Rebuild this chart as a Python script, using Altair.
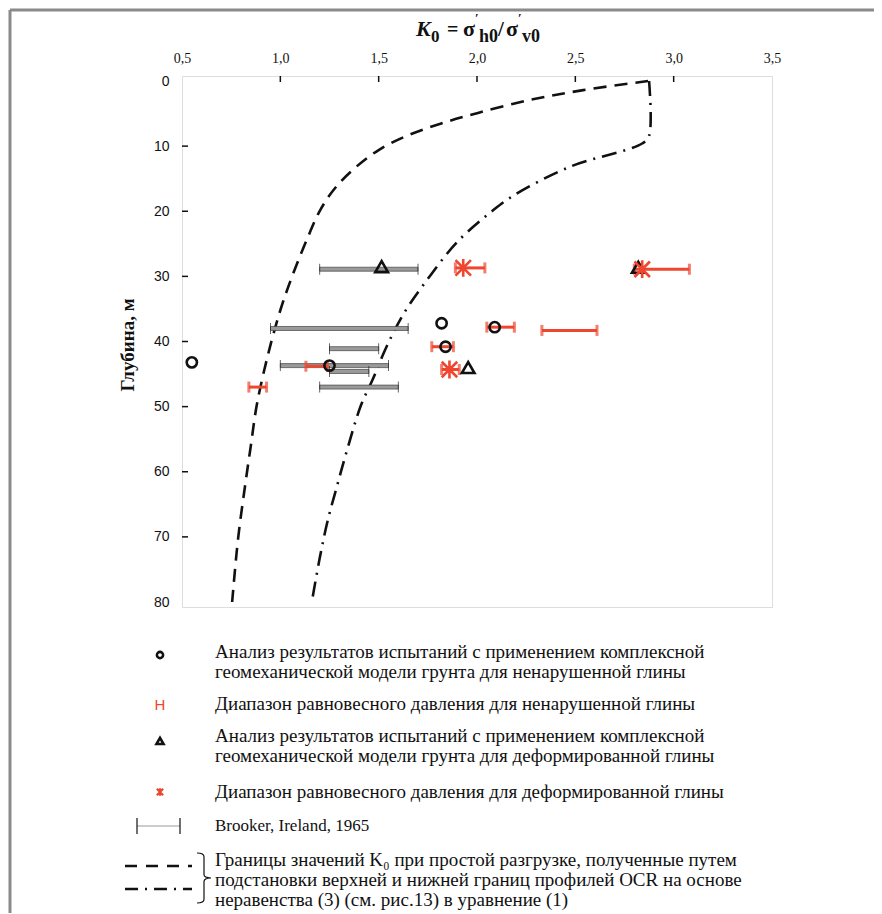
import altair as alt
import pandas as pd

# ---------------- data ----------------
# undisturbed clay, complex geomechanical model (open circles)
und_K = [0.55, 1.25, 1.82, 1.84, 2.09]
und_D = [43.2, 43.7, 37.2, 40.8, 37.8]
# equilibrium pressure range, undisturbed clay (red H)
und_lo = [0.84, 1.13, 1.77, 2.05, 2.33]
und_hi = [0.93, 1.24, 1.88, 2.19, 2.61]
und_rD = [47.0, 43.8, 40.8, 37.8, 38.3]
# deformed clay, complex geomechanical model (open triangles)
def_K = [1.515, 1.955, 2.82]
def_D = [28.5, 44.0, 28.6]
# equilibrium pressure range, deformed clay (red asterisk)
defr_K = [1.93, 2.84, 1.86]
defr_lo = [1.89, 2.80, 1.82]
defr_hi = [2.04, 3.08, 1.91]
defr_D = [28.7, 28.9, 44.3]
# Brooker, Ireland, 1965
br_lo = [1.20, 0.95, 1.25, 1.00, 1.25, 1.20]
br_hi = [1.70, 1.65, 1.50, 1.55, 1.45, 1.60]
br_D = [28.9, 38.0, 41.1, 43.7, 44.6, 47.0]
# K0 bounds, dashed curve
dash_D = [0, 1.4, 2.9, 4.9, 6.6, 8.4, 10.6, 13.2, 16.2, 19.7, 24.7, 30, 35.2, 42.3, 49.8, 56, 62.3, 70.3, 80]
dash_K = [2.87, 2.54, 2.27, 2.005, 1.81, 1.645, 1.50, 1.385, 1.285, 1.205, 1.13, 1.06, 1.0, 0.935, 0.88, 0.85, 0.82, 0.785, 0.755]
# K0 bounds, dash-dot curve
dd_D = [0, 8.4, 9.6, 13.2, 17.7, 19.9, 24.7, 31, 35.6, 40.8, 45.8, 49.8, 56.6, 62, 67.6, 73.3, 80]
dd_K = [2.875, 2.875, 2.84, 2.47, 2.18, 2.08, 1.90, 1.735, 1.63, 1.54, 1.47, 1.41, 1.34, 1.29, 1.24, 1.20, 1.16]

x_ticks = [0.5, 1.0, 1.5, 2.0, 2.5, 3.0, 3.5]
y_ticks = [0, 10, 20, 30, 40, 50, 60, 70, 80]

legend_lines = [
    "Анализ результатов испытаний с применением комплексной",
    "геомеханической модели грунта для ненарушенной глины",
    "Диапазон равновесного давления для ненарушенной глины",
    "Анализ результатов испытаний с применением комплексной",
    "геомеханической модели грунта для деформированной глины",
    "Диапазон равновесного давления для деформированной глины",
    "Brooker, Ireland, 1965",
    "Границы значений K₀ при простой разгрузке, полученные путем",
    "подстановки верхней и нижней границ профилей OCR на основе",
    "неравенства (3) (см. рис.13) в уравнение (1)",
]
legend_y = [576, 596, 628, 660, 680, 716, 750, 784, 804, 824]
legend_size = [19, 19, 19, 19, 19, 19, 17, 19, 19, 19]

RED = "#ef4630"
SERIF = "Liberation Serif"
SANS = "Liberation Sans"
W, H = 590, 531

xs = alt.Scale(domain=[0.5, 3.5], nice=False, zero=False)
ys = alt.Scale(domain=[0, 80], reverse=True, nice=False, zero=False)
xaxis = alt.Axis(orient="top", values=x_ticks, ticks=False, domain=False, grid=False,
                 labelExpr="replace(format(datum.value, '.1f'), '.', ',')",
                 labelFont=SERIF, labelFontSize=14, labelColor="#111", labelPadding=11,
                 labelFlush=False, title=None)
yaxis = alt.Axis(values=y_ticks, ticks=False, domain=False, grid=False,
                 labelFont=SANS, labelFontSize=14, labelColor="#111", labelPadding=13,
                 labelFlush=False, title=None)


def X(f):
    return alt.X(f, type="quantitative", scale=xs, axis=xaxis)


def Y(f):
    return alt.Y(f, type="quantitative", scale=ys, axis=yaxis)


one = pd.DataFrame({"a": [1]})

und_df = pd.DataFrame({"K": und_K, "D": und_D})
undr_df = pd.DataFrame({"lo": und_lo, "hi": und_hi, "D": und_rD})
def_df = pd.DataFrame({"K": def_K, "D": def_D})
defr_df = pd.DataFrame({"K": defr_K, "lo": defr_lo, "hi": defr_hi, "D": defr_D})
br_df = pd.DataFrame({"lo": br_lo, "hi": br_hi, "D": br_D})
dash_df = pd.DataFrame({"K": dash_K, "D": dash_D, "o": list(range(len(dash_D)))})
dd_df = pd.DataFrame({"K": dd_K, "D": dd_D, "o": list(range(len(dd_D)))})
xt_df = pd.DataFrame({"K": x_ticks[1:-1]})
yt_df = pd.DataFrame({"D": y_ticks[1:-1]})
leg_df = pd.DataFrame({"t": legend_lines, "py": legend_y, "fs": legend_size})

ASTER = "M-1,-1L1,1M-1,1L1,-1M0,-1.15L0,1.15"
BRACE = ("M-0.28,-1 Q0,-1 0,-0.85 L0,-0.14 Q0,0 0.28,0 Q0,0 0,0.14 L0,0.85 Q0,1 -0.28,1")

layers = []

# outer page frame (left and top edges visible)
layers.append(alt.Chart(one).mark_rule(color="#8a8a8a", strokeWidth=3).encode(
    x=alt.value(-172), x2=alt.value(720), y=alt.value(-66)))
layers.append(alt.Chart(one).mark_rule(color="#8a8a8a", strokeWidth=3).encode(
    x=alt.value(-172), y=alt.value(-66), y2=alt.value(900)))

# inward ticks
layers.append(alt.Chart(xt_df).mark_rule(color="#111", strokeWidth=1.5).encode(
    x=X("K"), y=alt.value(0), y2=alt.value(6)))
layers.append(alt.Chart(yt_df).mark_rule(color="#111", strokeWidth=1.5).encode(
    y=Y("D"), x=alt.value(0), x2=alt.value(6)))

# curves
layers.append(alt.Chart(dash_df).mark_line(color="#111", strokeWidth=2.6, strokeDash=[13, 8],
                                           interpolate="catmull-rom").encode(
    x=X("K"), y=Y("D"), order="o:Q"))
layers.append(alt.Chart(dd_df).mark_line(color="#111", strokeWidth=2.6, strokeDash=[15, 7, 2, 7],
                                         interpolate="catmull-rom").encode(
    x=X("K"), y=Y("D"), order="o:Q"))

# Brooker bars
br = alt.Chart(br_df)
layers.append(br.mark_bar(size=4, fill="#9a9a9a", stroke="#444", strokeWidth=0.7, orient="horizontal").encode(
    x=X("lo"), x2="hi", y=Y("D")))
layers.append(br.mark_tick(orient="vertical", size=11, thickness=1, color="#222").encode(x=X("lo"), y=Y("D")))
layers.append(br.mark_tick(orient="vertical", size=11, thickness=1, color="#222").encode(x=X("hi"), y=Y("D")))

# red ranges
for df in (undr_df, defr_df):
    c = alt.Chart(df)
    layers.append(c.mark_rule(color=RED, strokeWidth=3).encode(x=X("lo"), x2="hi", y=Y("D")))
    layers.append(c.mark_tick(orient="vertical", size=11, thickness=3, color=RED).encode(x=X("lo"), y=Y("D")))
    layers.append(c.mark_tick(orient="vertical", size=11, thickness=3, color=RED).encode(x=X("hi"), y=Y("D")))

# markers
layers.append(alt.Chart(und_df).mark_point(shape="circle", size=105, filled=False, color="#111",
                                           strokeWidth=2.6, opacity=1).encode(x=X("K"), y=Y("D")))
layers.append(alt.Chart(def_df).mark_point(shape="triangle-up", size=160, filled=False, color="#111",
                                           strokeWidth=2.6, opacity=1).encode(x=X("K"), y=Y("D")))
layers.append(alt.Chart(defr_df).mark_point(shape=ASTER, size=240, filled=False, color=RED,
                                            strokeWidth=2.6, opacity=1).encode(x=X("K"), y=Y("D")))


# ---------- title pieces ----------
def txt(s, x, y, size=20, weight="bold", style="normal", font=SERIF, align="left", angle=0, color="#111"):
    return alt.Chart(one).mark_text(text=s, font=font, fontSize=size, fontWeight=weight, fontStyle=style,
                                    align=align, baseline="alphabetic", angle=angle, color=color).encode(
        x=alt.value(x), y=alt.value(y))


ox, oy = 182, 76
title_parts = [
    ("K", 416, 36, 22, "italic"), ("0", 431, 42, 17, "normal"), ("=", 447, 36, 20, "normal"),
    ("σ", 463, 36, 22, "normal"), ("′", 475, 22, 13, "normal"), ("h0", 479, 42, 18, "normal"),
    ("/", 498, 36, 21, "normal"), ("σ", 506, 36, 22, "normal"), ("′", 518, 22, 13, "normal"),
    ("v0", 522, 42, 18, "normal"),
]
for s, px, py, sz, st in title_parts:
    layers.append(txt(s, px - ox, py - oy, size=sz, style=st))

# y-axis title
layers.append(alt.Chart(one).mark_text(text="Глубина, м", font=SERIF, fontSize=19, fontWeight="bold",
                                       angle=270, align="center", baseline="middle", color="#111").encode(
    x=alt.value(128 - ox), y=alt.value(345 - oy)))

# ---------- legend ----------
layers.append(alt.Chart(leg_df).mark_text(font=SERIF, align="left", baseline="middle",
                                          color="#111").encode(
    x=alt.value(215 - ox), y=alt.Y("py:Q", scale=None), text="t:N",
    size=alt.Size("fs:Q", scale=None, legend=None)))

LX = 160 - ox
layers.append(alt.Chart(one).mark_point(shape="circle", size=38, filled=False, color="#111",
                                        strokeWidth=2.6, opacity=1).encode(x=alt.value(LX), y=alt.value(579)))
layers.append(txt("H", LX, 634, size=15, weight="normal", font=SANS, align="center", color=RED))
layers.append(alt.Chart(one).mark_point(shape="triangle-up", size=50, filled=False, color="#111",
                                        strokeWidth=2.6, opacity=1).encode(x=alt.value(LX), y=alt.value(665)))
layers.append(alt.Chart(one).mark_point(shape=ASTER, size=40, filled=False, color=RED,
                                        strokeWidth=2.2, opacity=1).encode(x=alt.value(LX), y=alt.value(716)))
layers.append(alt.Chart(one).mark_rule(color="#999", strokeWidth=1).encode(
    x=alt.value(137 - ox), x2=alt.value(180 - ox), y=alt.value(750)))
for cx in (137, 180):
    layers.append(alt.Chart(one).mark_rule(color="#111", strokeWidth=1.2).encode(
        x=alt.value(cx - ox), y=alt.value(742), y2=alt.value(758)))
layers.append(alt.Chart(one).mark_rule(color="#111", strokeWidth=2.6, strokeDash=[12, 9]).encode(
    x=alt.value(125 - ox), x2=alt.value(192 - ox), y=alt.value(790)))
layers.append(alt.Chart(one).mark_rule(color="#111", strokeWidth=2.6, strokeDash=[13, 7, 2, 7]).encode(
    x=alt.value(125 - ox), x2=alt.value(192 - ox), y=alt.value(813)))
layers.append(alt.Chart(one).mark_point(shape=BRACE, size=2500, filled=False, color="#111",
                                        strokeWidth=1.2, opacity=1).encode(
    x=alt.value(204 - ox), y=alt.value(802)))

chart = alt.layer(*layers).properties(
    width=W, height=H,
    autosize=alt.AutoSizeParams(type="none"),
    padding={"left": 174, "top": 68, "right": 102, "bottom": 306},
).configure_view(stroke="#111", strokeWidth=2.5).configure(background="white")

chart.save("out.html", embed_options={"renderer": "svg", "actions": False})
